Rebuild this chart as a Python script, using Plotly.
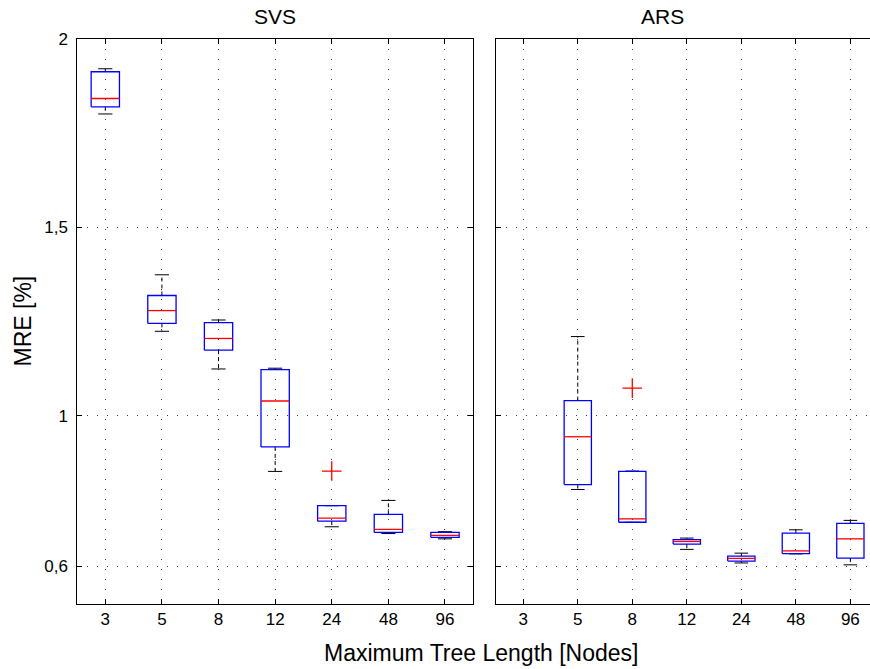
import plotly.graph_objects as go

categories = ['3', '5', '8', '12', '24', '48', '96']

svs_lower = [1.801, 1.224, 1.124, 0.852, 0.705, 0.687, 0.673]
svs_q1 = [1.820, 1.245, 1.174, 0.917, 0.720, 0.690, 0.677]
svs_median = [1.842, 1.279, 1.205, 1.039, 0.728, 0.698, 0.682]
svs_q3 = [1.913, 1.319, 1.247, 1.122, 0.761, 0.738, 0.690]
svs_upper = [1.921, 1.374, 1.254, 1.126, 0.761, 0.775, 0.692]
svs_outlier_cat = ['24']
svs_outlier_val = [0.853]

ars_lower = [None, 0.804, 0.717, 0.645, 0.609, 0.633, 0.604]
ars_q1 = [None, 0.817, 0.717, 0.659, 0.614, 0.634, 0.622]
ars_median = [None, 0.944, 0.726, 0.666, 0.621, 0.641, 0.673]
ars_q3 = [None, 1.040, 0.852, 0.671, 0.627, 0.688, 0.714]
ars_upper = [None, 1.210, 0.853, 0.675, 0.635, 0.697, 0.722]
ars_outlier_cat = ['8']
ars_outlier_val = [1.073]

ytick_vals = [0.6, 1, 1.5, 2]
ytick_text = ['0,6', '1', '1,5', '2']

FONT = 'Liberation Sans, Arial, sans-serif'
BOX_HALF = 0.25
CAP_HALF = 0.125


def box_traces(lower, q1, med, q3, upper, out_cat, out_val, xa, ya):
    bx, by, mx, my, wx, wy, cx, cy = [], [], [], [], [], [], [], []
    for i, cat in enumerate(categories):
        if q1[i] is None:
            continue
        p = i + 1
        bx += [p - BOX_HALF, p + BOX_HALF, p + BOX_HALF, p - BOX_HALF, p - BOX_HALF, None]
        by += [q1[i], q1[i], q3[i], q3[i], q1[i], None]
        mx += [p - BOX_HALF, p + BOX_HALF, None]
        my += [med[i], med[i], None]
        wx += [p, p, None, p, p, None]
        wy += [q3[i], upper[i], None, q1[i], lower[i], None]
        cx += [p - CAP_HALF, p + CAP_HALF, None, p - CAP_HALF, p + CAP_HALF, None]
        cy += [upper[i], upper[i], None, lower[i], lower[i], None]
    ox = [categories.index(c) + 1 for c in out_cat]
    common = dict(xaxis=xa, yaxis=ya, showlegend=False, hoverinfo='skip')
    return [
        go.Scatter(x=wx, y=wy, mode='lines', line=dict(color='black', width=1, dash='4px,3px'), **common),
        go.Scatter(x=cx, y=cy, mode='lines', line=dict(color='black', width=1), **common),
        go.Scatter(x=bx, y=by, mode='lines', line=dict(color='#0000ff', width=1.3), **common),
        go.Scatter(x=mx, y=my, mode='lines', line=dict(color='#ff0000', width=1.3), **common),
        go.Scatter(x=ox, y=out_val, mode='markers',
                   marker=dict(symbol='cross-thin', size=14, line=dict(color='#ff0000', width=1.3)),
                   **common),
    ]


fig = go.Figure()
for t in box_traces(svs_lower, svs_q1, svs_median, svs_q3, svs_upper,
                    svs_outlier_cat, svs_outlier_val, 'x', 'y'):
    fig.add_trace(t)
for t in box_traces(ars_lower, ars_q1, ars_median, ars_q3, ars_upper,
                    ars_outlier_cat, ars_outlier_val, 'x2', 'y2'):
    fig.add_trace(t)

L, T, B = 77, 39, 65
W, H = 870, 669
pw = W - L
ph = H - T - B

grid = dict(showgrid=True, gridcolor='rgba(0,0,0,0.75)', gridwidth=1, griddash='1px,9px')
xcommon = dict(tickmode='array', tickvals=list(range(1, 8)), ticktext=categories,
               ticks='inside', ticklen=5, tickcolor='black', showline=True, linecolor='black',
               linewidth=1, mirror='ticks', zeroline=False,
               tickfont=dict(family=FONT, size=17, color='black'), **grid)
ycommon = dict(range=[0.5, 2], tickmode='array', tickvals=ytick_vals,
               ticktext=[t + '\u00a0' for t in ytick_text],
               ticks='inside', ticklen=5, tickcolor='black', showline=True, linecolor='black',
               linewidth=1, zeroline=False,
               tickfont=dict(family=FONT, size=17, color='black'), **grid)

fig.update_layout(
    width=W, height=H, autosize=False,
    margin=dict(l=L, r=0, t=T, b=B, pad=0),
    paper_bgcolor='white', plot_bgcolor='white',
    xaxis=dict(domain=[0, (473.3 - L) / pw], range=[0.5, 7.5], anchor='y', **xcommon),
    xaxis2=dict(domain=[(496 - L) / pw, 1], range=[0.5, 7.36], anchor='y2', **xcommon),
    yaxis=dict(domain=[0, 1], anchor='x', mirror='ticks', **ycommon),
    yaxis2=dict(domain=[0, 1], anchor='x2', matches='y', showticklabels=False, mirror=False, **ycommon),
    annotations=[
        dict(text='SVS', x=(275 - L) / pw, y=(T - 16) / ph + 1, xref='paper', yref='paper',
             showarrow=False, font=dict(family=FONT, size=21, color='black'),
             xanchor='center', yanchor='middle'),
        dict(text='ARS', x=(662 - L) / pw, y=(T - 16) / ph + 1, xref='paper', yref='paper',
             showarrow=False, font=dict(family=FONT, size=21, color='black'),
             xanchor='center', yanchor='middle'),
        dict(text='Maximum Tree Length [Nodes]', x=(481 - L) / pw, y=-(653 - (H - B)) / ph,
             xref='paper', yref='paper', showarrow=False,
             font=dict(family=FONT, size=23, color='black'), xanchor='center', yanchor='middle'),
        dict(text='MRE [%]', x=(22 - L) / pw, y=0.5, xref='paper', yref='paper',
             showarrow=False, textangle=-90, font=dict(family=FONT, size=23, color='black'),
             xanchor='center', yanchor='middle'),
    ],
)

fig.write_html('out.html')
